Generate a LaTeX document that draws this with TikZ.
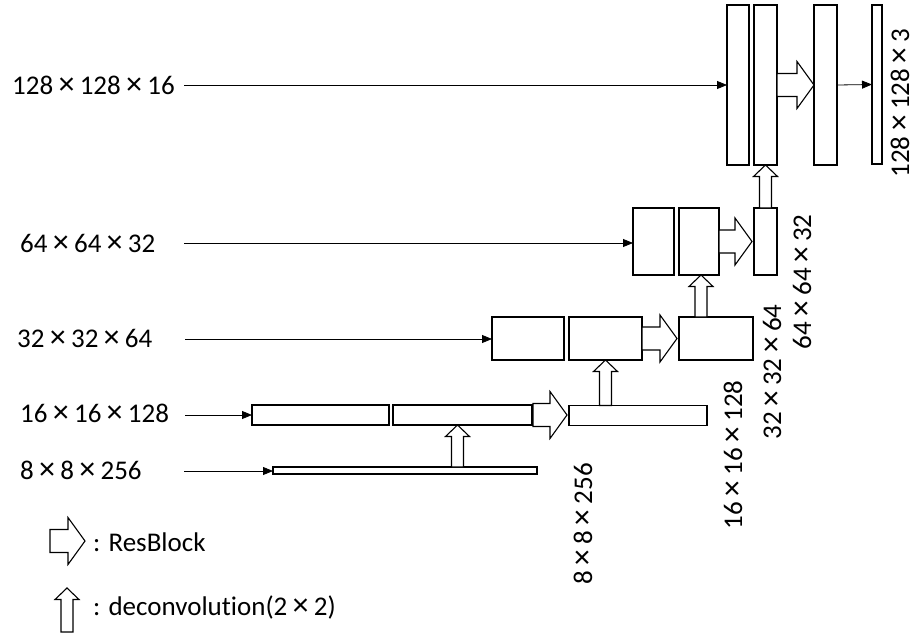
\documentclass[tikz,border=0pt]{standalone}
\usepackage{fontspec}
\setmainfont{Carlito}[Ligatures=NoCommon]
\newfontfamily\timesglyphfont{Liberation Sans}
\usetikzlibrary{arrows.meta,calc}

% multiplication sign, taken from a font with a fuller glyph
\newcommand\by{\,{\timesglyphfont\fontsize{30}{31}\selectfont ×}\,}

% hollow block arrow for a ResBlock: from #1 to #2, horizontal
\newcommand\resarrow[2]{%
  \draw[blockarrow] let \p1=#1, \p2=#2 in
    (\x1,\y1+11.5pt) -- (\x2-17pt,\y1+11.5pt) -- (\x2-17pt,\y1+23.5pt)
    -- (\x2,\y1) -- (\x2-17pt,\y1-23.5pt) -- (\x2-17pt,\y1-11.5pt)
    -- (\x1,\y1-11.5pt) -- cycle;}
% hollow up arrow for a deconvolution: from #1 (bottom) up to #2 (tip)
\newcommand\deconvarrow[2]{%
  \draw[blockarrow] let \p1=#2, \p2=#1 in
    (\x1-6pt,\y2) -- (\x1-6pt,\y1-11.5pt) -- (\x1-12pt,\y1-11.5pt)
    -- (\x1,\y1) -- (\x1+12pt,\y1-11.5pt) -- (\x1+6pt,\y1-11.5pt)
    -- (\x1+6pt,\y2) -- cycle;}

\tikzset{
  box/.style={draw, line width=1.3pt, fill=white, inner sep=0pt, outer sep=0pt, anchor=north west},
  blockarrow/.style={draw, line width=1.1pt, fill=white, line join=miter},
  feed/.style={line width=0.8pt, -{Triangle[length=10pt,width=8pt]}},
  dimlabel/.style={font=\fontsize{27}{31}\selectfont, inner sep=0pt},
}

\begin{document}
\begin{tikzpicture}[x=1pt,y=-1pt]
\useasboundingbox (0,0) rectangle (917,634);

% ---- 128 x 128 level
\node[box, minimum width=22pt, minimum height=160pt] (A1) at (727,5) {};
\node[box, minimum width=23pt, minimum height=160pt] (A2) at (754,5) {};
\node[box, minimum width=23pt, minimum height=160pt] (A3) at (814,5) {};
\node[box, minimum width=10pt, minimum height=159pt] (A4) at (872,5) {};

% ---- 64 x 64 level
\node[box, minimum width=41pt, minimum height=67pt] (B1) at (633,208) {};
\node[box, minimum width=40pt, minimum height=67pt] (B2) at (679,208) {};
\node[box, minimum width=23pt, minimum height=67pt] (B3) at (754,208) {};

% ---- 32 x 32 level
\node[box, minimum width=72pt, minimum height=43pt] (C1) at (492,317) {};
\node[box, minimum width=73pt, minimum height=43pt] (C2) at (569,317) {};
\node[box, minimum width=74pt, minimum height=43pt] (C3) at (679,317) {};

% ---- 16 x 16 level
\node[box, minimum width=137pt, minimum height=20pt] (D1) at (252,405) {};
\node[box, minimum width=139pt, minimum height=20pt] (D2) at (393,405) {};
\node[box, minimum width=138pt, minimum height=20pt] (D3) at (569,405.5) {};

% ---- 8 x 8 level
\node[box, minimum width=264pt, minimum height=7pt] (E) at (273,467) {};

% ---- input labels on the left
\node[dimlabel, anchor=west] (L1) at (12,85) {128\by128\by16};
\node[dimlabel, anchor=west] (L2) at (20,243) {64\by64\by32};
\node[dimlabel, anchor=west] (L3) at (17,338) {32\by32\by64};
\node[dimlabel, anchor=west] (L4) at (20,413) {16\by16\by128};
\node[dimlabel, anchor=west] (L5) at (20,470) {8\by8\by256};

\coordinate (s1) at (184,85);
\coordinate (s2) at (184,243);
\coordinate (s3) at (185,339);
\coordinate (s4) at (185,415);
\coordinate (s5) at (184,471);

\draw[feed] (s1) -- (s1 -| A1.west);
\draw[feed] (s2) -- (s2 -| B1.west);
\draw[feed] (s3) -- (s3 -| C1.west);
\draw[feed] (s4) -- (s4 -| D1.west);
\draw[feed] (s5) -- (s5 -| E.west);
\draw[feed] (A3.east) -- (A4.west);

% ---- ResBlocks
\resarrow{(A2.east)}{(A3.west)}
\resarrow{(B2.east)}{($(B3.west)+(-2,0)$)}
\resarrow{(C2.east)}{($(C3.west)+(-2,0)$)}
\resarrow{($(D2.east)+(1,0)$)}{($(D3.west)+(-2,0)$)}

% ---- deconvolutions
\deconvarrow{(B3.north)}{(A2.south)}
\deconvarrow{($(C3.north)+(-15,0)$)}{($(B2.south)+(2,0)$)}
\deconvarrow{(D3.north -| C2.south)}{(C2.south)}
\deconvarrow{($(E.north)+(52,0)$)}{($(D2.south)+(-5,0)$)}

% ---- output size labels
\node[dimlabel, rotate=90] (R1) at (900,103) {128\by128\by3};
\node[dimlabel, rotate=90] (R2) at (802,282) {64\by64\by32};
\node[dimlabel, rotate=90] (R3) at (772,372) {32\by32\by64};
\node[dimlabel, rotate=90] (R4) at (733,455) {16\by16\by128};
\node[dimlabel, rotate=90] (R5) at (583,524) {8\by8\by256};

% ---- legend
\coordinate (kr1) at (50,541);
\coordinate (kr2) at (85,541);
\resarrow{(kr1)}{(kr2)}
\node[dimlabel, anchor=west] (kt1) at (93,542) {: ResBlock};
\coordinate (kd1) at (67,632);
\coordinate (kd2) at (67,588);
\deconvarrow{(kd1)}{(kd2)}
\node[dimlabel, anchor=west] (kt2) at (93,607) {: deconvolution(2\by2)};
\end{tikzpicture}
\end{document}
